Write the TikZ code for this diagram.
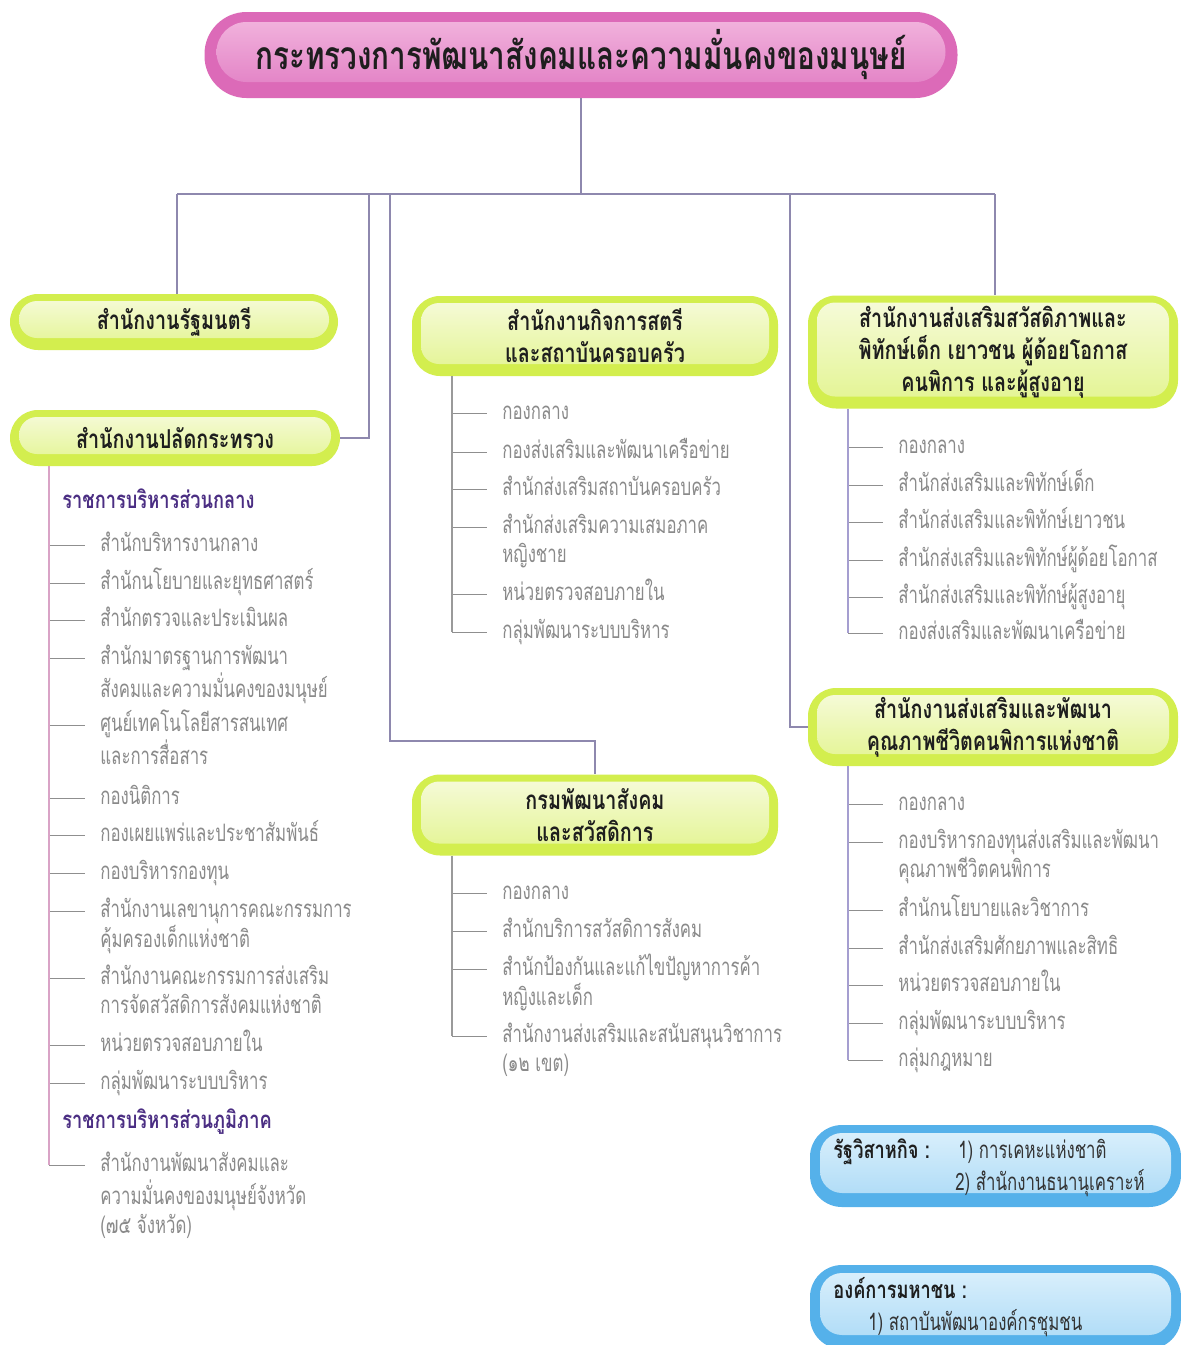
\documentclass[tikz,border=0pt]{standalone}
\usepackage{fontspec}
\newfontfamily\thai[Script=Thai,FakeStretch=0.7]{Loma}
\newfontfamily\thaib[Script=Thai,FakeStretch=0.76]{Loma}
\usetikzlibrary{calc}
\definecolor{limeo}{HTML}{D3EE4E}
\definecolor{limet}{HTML}{F7FBDD}
\definecolor{limeb}{HTML}{E2F48E}
\definecolor{pinko}{HTML}{DC6AB8}
\definecolor{pinkt}{HTML}{F3B8DF}
\definecolor{pinkb}{HTML}{E07AC2}
\definecolor{blueo}{HTML}{55B1EA}
\definecolor{bluet}{HTML}{DDF1FC}
\definecolor{blueb}{HTML}{A9D9F6}
\definecolor{linec}{HTML}{8E88AE}
\definecolor{tickc}{HTML}{8F8F8F}
\definecolor{trunkl}{HTML}{D9A3C6}
\definecolor{trunkm}{HTML}{9A9A9A}
\definecolor{trunkr}{HTML}{A59ED0}
\definecolor{itemc}{HTML}{8A8A8A}
\definecolor{headc}{HTML}{4B2E83}
\definecolor{boxt}{HTML}{1E1E1E}
\newcommand\itmtext[1]{\begin{tabular}[t]{@{}l@{}}#1\end{tabular}}
\newcommand\itm[5]{%
  \coordinate (#1t) at (#2,#3);
  \node[item] (#1) at (#4,#3+6) {\itmtext{#5}};
  \draw[tick] (#1t) -- ([xshift=-7.5pt]#1.base west |- #1t);}
\begin{document}
\begin{tikzpicture}[x=0.5pt,y=-0.5pt,
  sz/.style 2 args={minimum width=#1*0.5pt, minimum height=#2*0.5pt},
  conn/.style={draw=linec, line width=0.6pt},
  tick/.style={draw=tickc, line width=0.5pt},
  item/.style={font=\thai\fontsize{12}{14.5}\selectfont, text=itemc, inner sep=0pt, anchor=base west},
  head/.style={font=\thaib\bfseries\fontsize{12}{14.5}\selectfont, text=headc, inner sep=0pt, anchor=base west},
  btext/.style={font=\thai\fontsize{12}{14.5}\selectfont, text=black!80, inner sep=0pt, anchor=base west},
  bhead/.style={font=\thaib\bfseries\fontsize{12}{14.5}\selectfont, text=boxt, inner sep=0pt, anchor=base west},
  gpill/.style={rounded corners=14pt, fill=limeo, align=center, text=boxt,
    font=\thaib\bfseries\fontsize{13}{16}\selectfont, inner sep=0pt,
    path picture={\shade[top color=limet, bottom color=limeb, rounded corners=9pt]
      ([xshift=4.5pt,yshift=-3.5pt]path picture bounding box.north west) rectangle
      ([xshift=-4.5pt,yshift=6pt]path picture bounding box.south east);}},
  ppill/.style={rounded corners=21pt, fill=pinko, align=center, text=boxt,
    font=\thaib\bfseries\fontsize{19.5}{24}\selectfont, inner sep=0pt,
    path picture={\shade[top color=pinkt, bottom color=pinkb, rounded corners=15pt]
      ([xshift=6pt,yshift=-5pt]path picture bounding box.north west) rectangle
      ([xshift=-6pt,yshift=8pt]path picture bounding box.south east);}},
  bpill/.style={rounded corners=16pt, fill=blueo, inner sep=0pt,
    path picture={\shade[top color=bluet, bottom color=blueb, rounded corners=11pt]
      ([xshift=5pt,yshift=-4pt]path picture bounding box.north west) rectangle
      ([xshift=-5pt,yshift=7pt]path picture bounding box.south east);}},
]
\useasboundingbox[fill=white] (0,0) rectangle (1181,1345);

% boxes
\node[ppill, sz={753}{86}] (top) at (581,55) {กระทรวงการพัฒนาสังคมและความมั่นคงของมนุษย์};
\node[gpill, sz={328}{56}] (rmt) at (174,322) {สำนักงานรัฐมนตรี};
\node[gpill, sz={330}{56}] (pl) at (175,438) {สำนักงานปลัดกระทรวง};
\node[gpill, sz={366}{80}] (wom) at (595,336) {สำนักงานกิจการสตรี\\และสถาบันครอบครัว};
\node[gpill, sz={370}{113}] (wel) at (993,352) {สำนักงานส่งเสริมสวัสดิภาพและ\\พิทักษ์เด็ก เยาวชน ผู้ด้อยโอกาส\\คนพิการ และผู้สูงอายุ};
\node[gpill, sz={370}{78}] (dep) at (993,727) {สำนักงานส่งเสริมและพัฒนา\\คุณภาพชีวิตคนพิการแห่งชาติ};
\node[gpill, sz={366}{81}] (dsd) at (595,815) {กรมพัฒนาสังคม\\และสวัสดิการ};
\node[bpill, sz={371}{82}] (soe) at (995.5,1166) {};
\node[bpill, sz={371}{84}] (pub) at (995.5,1307) {};

% main connectors
\coordinate (busL) at (177,194);
\coordinate (busR) at (995,194);
\coordinate (b2) at (369,194);
\coordinate (b3) at (390,194);
\coordinate (b4) at (790,194);
\coordinate (k1) at (390,741);
\draw[conn] (top.south) -- (top.south |- busL);
\draw[conn] (busL) -- (busR);
\draw[conn] (busL) -- (busL |- rmt.north);
\draw[conn] (b2) -- (b2 |- pl.east) -- (pl.east);
\draw[conn] (b3) -- (k1) -- (k1 -| dsd.north) -- (dsd.north);
\draw[conn] (b4) -- (b4 |- dep.west) -- (dep.west);
\draw[conn] (busR) -- (busR |- wel.north);

% left list
\node[head] (hc) at (62,508) {ราชการบริหารส่วนกลาง};
\itm{l1}{49}{545}{100}{สำนักบริหารงานกลาง}
\itm{l2}{49}{583}{100}{สำนักนโยบายและยุทธศาสตร์}
\itm{l3}{49}{620}{100}{สำนักตรวจและประเมินผล}
\itm{l4}{49}{658}{100}{สำนักมาตรฐานการพัฒนา\\สังคมและความมั่นคงของมนุษย์}
\itm{l5}{49}{725}{100}{ศูนย์เทคโนโลยีสารสนเทศ\\และการสื่อสาร}
\itm{l6}{49}{798}{100}{กองนิติการ}
\itm{l7}{49}{835}{100}{กองเผยแพร่และประชาสัมพันธ์}
\itm{l8}{49}{873}{100}{กองบริหารกองทุน}
\itm{l9}{49}{911}{100}{สำนักงานเลขานุการคณะกรรมการ\\คุ้มครองเด็กแห่งชาติ}
\itm{l10}{49}{978}{100}{สำนักงานคณะกรรมการส่งเสริม\\การจัดสวัสดิการสังคมแห่งชาติ}
\itm{l11}{49}{1045}{100}{หน่วยตรวจสอบภายใน}
\itm{l12}{49}{1083}{100}{กลุ่มพัฒนาระบบบริหาร}
\node[head] (hr) at (62,1128) {ราชการบริหารส่วนภูมิภาค};
\itm{l13}{49}{1165}{100}{สำนักงานพัฒนาสังคมและ\\ความมั่นคงของมนุษย์จังหวัด\\(๗๕ จังหวัด)}
\draw[draw=trunkl, line width=0.6pt] (pl.south -| l1t) -- (l13t);

% middle list 1
\itm{m1}{452}{413}{502}{กองกลาง}
\itm{m2}{452}{452}{502}{กองส่งเสริมและพัฒนาเครือข่าย}
\itm{m3}{452}{489}{502}{สำนักส่งเสริมสถาบันครอบครัว}
\itm{m4}{452}{527}{502}{สำนักส่งเสริมความเสมอภาค\\หญิงชาย}
\itm{m5}{452}{594}{502}{หน่วยตรวจสอบภายใน}
\itm{m6}{452}{632}{502}{กลุ่มพัฒนาระบบบริหาร}
\draw[draw=trunkm, line width=0.6pt] (wom.south -| m1t) -- (m6t);

% middle list 2
\itm{d1}{452}{893}{502}{กองกลาง}
\itm{d2}{452}{931}{502}{สำนักบริการสวัสดิการสังคม}
\itm{d3}{452}{969}{502}{สำนักป้องกันและแก้ไขปัญหาการค้า\\หญิงและเด็ก}
\itm{d4}{452}{1036}{502}{สำนักงานส่งเสริมและสนับสนุนวิชาการ\\(๑๒ เขต)}
\draw[draw=trunkm, line width=0.6pt] (dsd.south -| d1t) -- (d4t);

% right list 1
\itm{r1}{848}{447}{898}{กองกลาง}
\itm{r2}{848}{485}{898}{สำนักส่งเสริมและพิทักษ์เด็ก}
\itm{r3}{848}{522}{898}{สำนักส่งเสริมและพิทักษ์เยาวชน}
\itm{r4}{848}{560}{898}{สำนักส่งเสริมและพิทักษ์ผู้ด้อยโอกาส}
\itm{r5}{848}{597}{898}{สำนักส่งเสริมและพิทักษ์ผู้สูงอายุ}
\itm{r6}{848}{633}{898}{กองส่งเสริมและพัฒนาเครือข่าย}
\draw[draw=trunkr, line width=0.6pt] (wel.south -| r1t) -- (r6t);

% right list 2
\itm{p1}{848}{804}{898}{กองกลาง}
\itm{p2}{848}{842}{898}{กองบริหารกองทุนส่งเสริมและพัฒนา\\คุณภาพชีวิตคนพิการ}
\itm{p3}{848}{910}{898}{สำนักนโยบายและวิชาการ}
\itm{p4}{848}{948}{898}{สำนักส่งเสริมศักยภาพและสิทธิ}
\itm{p5}{848}{985}{898}{หน่วยตรวจสอบภายใน}
\itm{p6}{848}{1023}{898}{กลุ่มพัฒนาระบบบริหาร}
\itm{p7}{848}{1060}{898}{กลุ่มกฎหมาย}
\draw[draw=trunkr, line width=0.6pt] (dep.south -| p1t) -- (p7t);

% blue box texts
\node[bhead] (soeh) at (833,1158) {รัฐวิสาหกิจ :};
\node[btext] (soe1) at (958,1158) {1) การเคหะแห่งชาติ};
\node[btext] (soe2) at (955,1190) {2) สำนักงานธนานุเคราะห์};
\node[bhead] (pubh) at (833,1298) {องค์การมหาชน :};
\node[btext] (pub1) at (868,1330) {1) สถาบันพัฒนาองค์กรชุมชน};
\end{tikzpicture}
\end{document}
